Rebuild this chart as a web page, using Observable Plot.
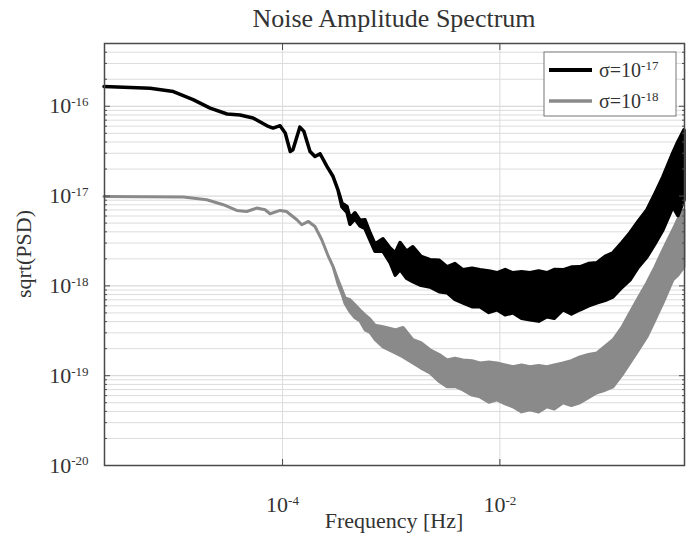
<!DOCTYPE html>
<html>
<head>
<meta charset="utf-8">
<script src="https://cdn.jsdelivr.net/npm/d3@7"></script>
<script src="https://cdn.jsdelivr.net/npm/@observablehq/plot@0.6"></script>
<style>
  html, body { margin: 0; padding: 0; background: #fff; }
  #chart { width: 689px; height: 538px; }
</style>
</head>
<body>
<div id="chart"></div>
<script>
// ---- Data (frequency in Hz, sqrt(PSD) upper / lower envelope) ----
const seriesNames = ["σ=10^-17", "σ=10^-18"];

const blackFreq = [2.3e-6, 6.1e-6, 1.0e-5, 1.52e-5, 2.18e-5, 3.12e-5, 4.11e-5, 5.41e-5, 7.28e-5, 8.26e-5,
  9.6e-5, 1.07e-4, 1.19e-4, 1.26e-4, 1.46e-4, 1.59e-4, 1.81e-4, 2.01e-4, 2.24e-4, 2.59e-4,
  2.95e-4, 3.27e-4, 3.56e-4, 3.96e-4, 4.22e-4, 4.69e-4, 5.22e-4, 5.8e-4, 6.45e-4, 7.17e-4,
  8.49e-4, 9.86e-4, 1.1e-3, 1.22e-3, 1.4e-3, 1.6e-3, 1.9e-3, 2.3e-3, 2.8e-3, 3.3e-3,
  3.9e-3, 4.62e-3, 5.6e-3, 6.63e-3, 8.0e-3, 9.5e-3, 1.13e-2, 1.33e-2, 1.6e-2, 1.91e-2,
  2.3e-2, 2.74e-2, 3.2e-2, 3.85e-2, 4.6e-2, 5.51e-2, 6.6e-2, 7.9e-2, 9.4e-2, 0.111,
  0.134, 0.159, 0.19, 0.228, 0.27, 0.32, 0.395, 0.44, 0.5];
const blackHigh = [1.64e-16, 1.57e-16, 1.44e-16, 1.17e-16, 9.4e-17, 8.1e-17, 7.9e-17, 7.3e-17, 5.98e-17, 5.65e-17,
  6.0e-17, 4.97e-17, 3.1e-17, 3.24e-17, 5.79e-17, 5.18e-17, 3.1e-17, 2.72e-17, 2.92e-17, 2.11e-17,
  1.63e-17, 1.16e-17, 8.25e-18, 7.56e-18, 5.6e-18, 6.43e-18, 5.3e-18, 5.38e-18, 3.85e-18, 2.9e-18,
  3.3e-18, 2.6e-18, 2.3e-18, 3.0e-18, 2.4e-18, 2.69e-18, 2.1e-18, 1.93e-18, 1.9e-18, 1.61e-18,
  1.75e-18, 1.49e-18, 1.55e-18, 1.49e-18, 1.45e-18, 1.38e-18, 1.5e-18, 1.38e-18, 1.42e-18, 1.38e-18,
  1.45e-18, 1.38e-18, 1.5e-18, 1.49e-18, 1.6e-18, 1.61e-18, 1.75e-18, 1.79e-18, 2.1e-18, 2.31e-18,
  3.0e-18, 3.85e-18, 5.2e-18, 6.95e-18, 1.05e-17, 1.62e-17, 3.0e-17, 4.0e-17, 5.4e-17];
const blackLow = [1.64e-16, 1.57e-16, 1.44e-16, 1.17e-16, 9.4e-17, 8.1e-17, 7.9e-17, 7.3e-17, 5.98e-17, 5.65e-17,
  6.0e-17, 4.97e-17, 3.1e-17, 3.24e-17, 5.79e-17, 5.18e-17, 3.1e-17, 2.72e-17, 2.92e-17, 2.11e-17,
  1.63e-17, 1.16e-17, 7.5e-18, 6.5e-18, 4.8e-18, 5.5e-18, 4.6e-18, 4.3e-18, 3.2e-18, 2.4e-18,
  2.4e-18, 1.8e-18, 1.3e-18, 1.5e-18, 1.2e-18, 1.1e-18, 1.0e-18, 9.6e-19, 8.5e-19, 8.3e-19,
  7.0e-19, 6.4e-19, 5.8e-19, 5.78e-19, 5.0e-19, 5.35e-19, 4.7e-19, 4.95e-19, 4.3e-19, 4.14e-19,
  4.0e-19, 4.47e-19, 4.3e-19, 5.35e-19, 4.8e-19, 5.35e-19, 5.9e-19, 6.4e-19, 6.8e-19, 7.46e-19,
  9.5e-19, 1.15e-18, 1.6e-18, 2.08e-18, 2.9e-18, 4.16e-18, 7.5e-18, 6.0e-18, 8.98e-18];

const grayFreq = [2.3e-6, 1.24e-5, 2.03e-5, 2.88e-5, 3.83e-5, 4.73e-5, 5.85e-5, 6.98e-5, 7.76e-5, 9.6e-5,
  1.1e-4, 1.37e-4, 1.52e-4, 1.75e-4, 2.01e-4, 2.32e-4, 2.67e-4, 2.95e-4, 3.27e-4, 3.56e-4,
  3.8e-4, 4.22e-4, 4.69e-4, 5.22e-4, 5.8e-4, 6.45e-4, 7.17e-4, 8.49e-4, 1.1e-3, 1.3e-3,
  1.6e-3, 1.9e-3, 2.3e-3, 2.8e-3, 3.3e-3, 3.9e-3, 4.62e-3, 5.6e-3, 6.63e-3, 8.0e-3,
  9.5e-3, 1.13e-2, 1.33e-2, 1.6e-2, 1.91e-2, 2.3e-2, 2.74e-2, 3.2e-2, 3.85e-2, 4.6e-2,
  5.51e-2, 6.6e-2, 7.9e-2, 9.4e-2, 0.111, 0.134, 0.159, 0.19, 0.228, 0.27,
  0.32, 0.395, 0.44, 0.5];
const grayHigh = [9.77e-18, 9.62e-18, 8.98e-18, 7.91e-18, 6.83e-18, 6.65e-18, 7.26e-18, 6.95e-18, 6.27e-18, 6.83e-18,
  6.65e-18, 5.38e-18, 4.73e-18, 5.15e-18, 4.53e-18, 3.22e-18, 2.1e-18, 1.62e-18, 1.15e-18, 8.93e-19,
  7.28e-19, 6.92e-19, 6.08e-19, 5.3e-19, 4.71e-19, 4.2e-19, 3.6e-19, 3.46e-19, 3.2e-19, 3.4e-19,
  2.48e-19, 2.3e-19, 1.92e-19, 1.7e-19, 1.48e-19, 1.55e-19, 1.48e-19, 1.45e-19, 1.37e-19, 1.4e-19,
  1.37e-19, 1.3e-19, 1.24e-19, 1.3e-19, 1.24e-19, 1.28e-19, 1.24e-19, 1.3e-19, 1.37e-19, 1.45e-19,
  1.6e-19, 1.7e-19, 1.77e-19, 2.1e-19, 2.48e-19, 3.4e-19, 4.95e-19, 7.3e-19, 1.07e-18, 1.6e-18,
  2.49e-18, 4.16e-18, 5.5e-18, 6.95e-18];
const grayLow = [9.77e-18, 9.62e-18, 8.98e-18, 7.91e-18, 6.83e-18, 6.65e-18, 7.26e-18, 6.95e-18, 6.27e-18, 6.83e-18,
  6.65e-18, 5.38e-18, 4.73e-18, 5.15e-18, 4.53e-18, 3.22e-18, 2.1e-18, 1.62e-18, 1.05e-18, 8.0e-19,
  6.3e-19, 5.08e-19, 4.36e-19, 4.0e-19, 3.2e-19, 3.0e-19, 2.5e-19, 2.07e-19, 1.77e-19, 1.6e-19,
  1.37e-19, 1.2e-19, 1.06e-19, 8.5e-20, 7.43e-20, 7.5e-20, 6.87e-20, 6.0e-20, 5.74e-20, 5.0e-20,
  5.32e-20, 4.8e-20, 4.45e-20, 3.9e-20, 4.12e-20, 3.9e-20, 4.45e-20, 4.2e-20, 4.93e-20, 4.6e-20,
  4.93e-20, 5.6e-20, 6.37e-20, 6.8e-20, 7.43e-20, 1.0e-19, 1.37e-19, 1.9e-19, 2.68e-19, 4.1e-19,
  6.4e-19, 1.15e-18, 1.3e-18, 1.61e-18];

// ---- Axis ticks ----
const xTicks = [1e-4, 1e-2];
const yMajor = [1e-20, 1e-19, 1e-18, 1e-17, 1e-16];
const yMinor = [];
for (const d of [1e-20, 1e-19, 1e-18, 1e-17, 1e-16]) for (let k = 2; k <= 9; k++) if (k * d <= 5e-16) yMinor.push(k * d);

// ---- Build tables ----
const black = blackFreq.map((f, i) => ({f, hi: blackHigh[i], lo: blackLow[i]}));
const gray = grayFreq.map((f, i) => ({f, hi: grayHigh[i], lo: grayLow[i]}));

const fmtPow = d => "10^" + Math.round(Math.log10(d));
const noText = () => "";
const FONT = "'Liberation Serif', 'Times New Roman', serif";
const TICK = "#4a4a4a";

const plot = Plot.plot({
  width: 689,
  height: 538,
  marginTop: 43,
  marginBottom: 73,
  marginLeft: 104,
  marginRight: 5,
  style: {fontFamily: FONT, fontSize: "22px", color: "#333", background: "#fff"},
  x: {type: "log", domain: [2.3e-6, 0.5], axis: null},
  y: {type: "log", domain: [1e-20, 5e-16], axis: null},
  marks: [
    Plot.gridY(yMinor, {stroke: "#dcdcdc", strokeOpacity: 1}),
    Plot.gridY(yMajor, {stroke: "#d0d0d0", strokeOpacity: 1}),
    Plot.gridX(xTicks, {stroke: "#dcdcdc", strokeOpacity: 1}),
    Plot.areaY(gray, {x: "f", y1: "lo", y2: "hi", fill: "#8a8a8a", stroke: "#8a8a8a", strokeWidth: 3, strokeLinejoin: "round"}),
    Plot.areaY(black, {x: "f", y1: "lo", y2: "hi", fill: "#000", stroke: "#000", strokeWidth: 3.5, strokeLinejoin: "round"}),
    Plot.frame({stroke: TICK, strokeWidth: 1.5}),
    Plot.axisY(yMajor, {anchor: "left", tickSize: -6, tickFormat: noText, label: null, stroke: TICK}),
    Plot.axisY(yMinor, {anchor: "left", tickSize: -3, tickFormat: noText, label: null, stroke: TICK}),
    Plot.axisY(yMajor, {anchor: "right", tickSize: -6, tickFormat: noText, label: null, stroke: TICK}),
    Plot.axisY(yMinor, {anchor: "right", tickSize: -3, tickFormat: noText, label: null, stroke: TICK}),
    Plot.axisX(xTicks, {anchor: "bottom", tickSize: -6, tickFormat: noText, label: null, stroke: TICK}),
    Plot.axisX(xTicks, {anchor: "top", tickSize: -6, tickFormat: noText, label: null, stroke: TICK}),
    Plot.axisY(yMajor, {anchor: "left", tickSize: 0, tickPadding: 16, tickFormat: fmtPow, label: null, fill: "#333"}),
    Plot.axisX(xTicks, {anchor: "bottom", tickSize: 0, tickPadding: 31, tickFormat: fmtPow, label: null, fill: "#333"})
  ]
});

document.getElementById("chart").appendChild(plot);

const svg = d3.select(plot);

// Turn "10^e" labels into 10 with a superscript exponent
function superscript(node, supSize) {
  const m = node.textContent.match(/^(.*?)10\^(.+)$/);
  if (!m) return;
  node.textContent = "";
  const t = d3.select(node);
  t.append("tspan").text(m[1] + "10");
  t.append("tspan").attr("dy", "-0.55em").attr("font-size", supSize).text(m[2]);
}
svg.selectAll('g[aria-label="y-axis tick label"] text').each(function() { superscript(this, "13px"); });
svg.selectAll('g[aria-label="x-axis tick label"] text').each(function() { superscript(this, "13px"); });

// Title and axis labels
const fLeft = 104, fRight = 689 - 5, fTop = 43, fBottom = 538 - 73;
const cx = (fLeft + fRight) / 2;
svg.append("text").attr("x", cx).attr("y", 27).attr("text-anchor", "middle")
  .attr("font-size", 26).attr("fill", "#333").attr("font-family", FONT).text("Noise Amplitude Spectrum");
svg.append("text").attr("x", cx).attr("y", 528).attr("text-anchor", "middle")
  .attr("font-size", 22).attr("fill", "#333").attr("font-family", FONT).text("Frequency [Hz]");
svg.append("text").attr("transform", `translate(31,${(fTop + fBottom) / 2}) rotate(-90)`).attr("text-anchor", "middle")
  .attr("font-size", 22).attr("fill", "#333").attr("font-family", FONT).text("sqrt(PSD)");

// Legend
const lg = svg.append("g").attr("font-family", FONT).attr("text-anchor", "start");
const lx = fRight - 140, ly = fTop + 9, lw = 132, lh = 64;
lg.append("rect").attr("x", lx).attr("y", ly).attr("width", lw).attr("height", lh)
  .attr("fill", "#fff").attr("stroke", "#777").attr("stroke-width", 1);
const legendColors = ["#000", "#8a8a8a"];
const legendWidths = [4, 3.5];
seriesNames.forEach((name, i) => {
  const yy = ly + 18 + i * 31;
  lg.append("line").attr("x1", lx + 5).attr("x2", lx + 48).attr("y1", yy).attr("y2", yy)
    .attr("stroke", legendColors[i]).attr("stroke-width", legendWidths[i]);
  const t = lg.append("text").attr("x", lx + 55).attr("y", yy + 7).attr("font-size", 20)
    .attr("fill", "#333").attr("text-anchor", "start").text(name);
  superscript(t.node(), "13px");
});
</script>
</body>
</html>
